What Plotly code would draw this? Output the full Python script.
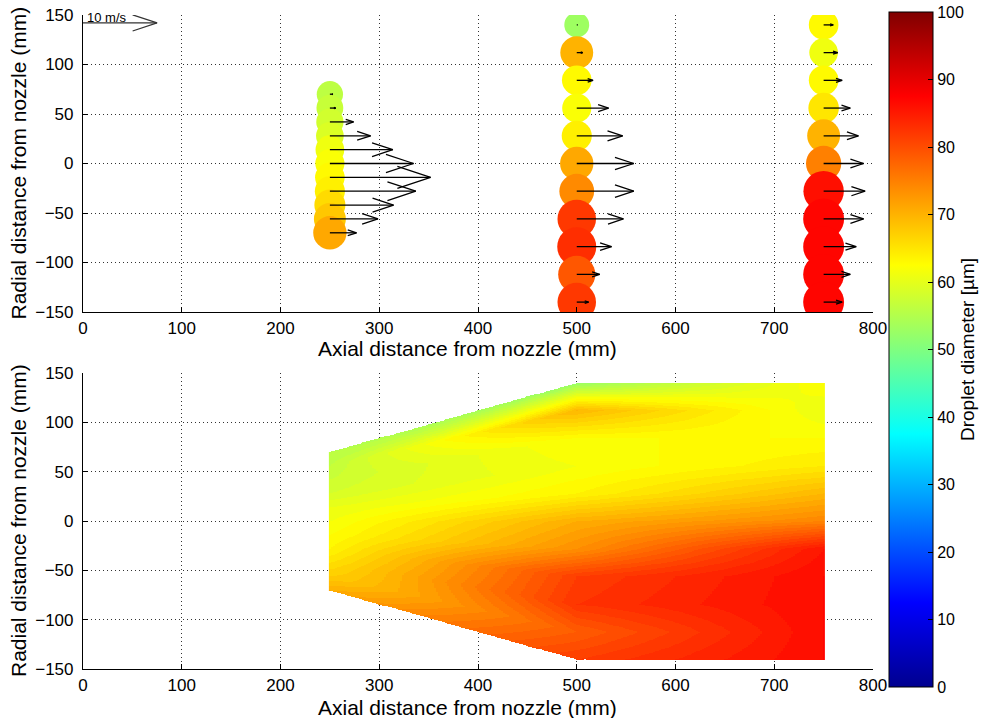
import numpy as np
import plotly.graph_objects as go

# Measurement stations along the spray axis (mm from nozzle)
STATIONS = [250, 500, 750]
# Radial probe positions (mm): narrow sweep at 250 mm, wide sweep further out
RADIAL_250 = [70, 56, 42, 28, 14, 0, -14, -28, -42, -56, -70]
RADIAL_OUTER = [140, 112, 84, 56, 28, 0, -28, -56, -84, -112, -140]

# Mean droplet diameter (um) at each probe position
DIAM_250 = [56, 57, 58, 59, 61, 62, 63, 64, 66, 68, 71]
DIAM_500 = [53, 70, 63, 62, 64, 71, 74, 82, 83, 79, 82]
DIAM_750 = [63, 61, 63, 65, 70, 75, 86, 87, 87, 87, 87]

# Mean axial droplet velocity (m/s) at each probe position
VEL_250 = [0.4, 0.8, 3.2, 5.5, 8.5, 11.3, 13.6, 11.6, 8.6, 6.5, 3.6]
VEL_500 = [0.1, 0.8, 2.2, 4.3, 6.2, 7.7, 7.7, 6.3, 4.7, 3.1, 1.6]
VEL_750 = [1.3, 1.9, 2.5, 3.6, 4.7, 5.4, 5.6, 5.4, 4.4, 3.6, 2.5]

REF_SPEED = 10  # m/s, key arrow
REF_LABEL = "10 m/s"

X_TICKS = list(range(0, 801, 100))
Y_TICKS = list(range(-150, 151, 50))
CBAR_TICKS = list(range(0, 101, 10))

X_TITLE = "Axial distance from nozzle (mm)"
Y_TITLE = "Radial distance from nozzle (mm)"
CBAR_TITLE = "Droplet diameter [µm]"

# ---------------------------------------------------------------------------
FONT = "Arial, Liberation Sans, sans-serif"
JET = [
    [0.0, "#00008F"], [0.125, "#0000FF"], [0.375, "#00FFFF"],
    [0.625, "#FFFF00"], [0.875, "#FF0000"], [1.0, "#800000"],
]
ARROW_SCALE = 7.5      # axial mm drawn per m/s
HEAD_ALPHA = 0.33      # quiver-style open arrowheads
HEAD_BETA = 0.33
MARKER_SCALE = 0.47    # marker px per um of diameter

columns = [
    (STATIONS[0], RADIAL_250, DIAM_250, VEL_250),
    (STATIONS[1], RADIAL_OUTER, DIAM_500, VEL_500),
    (STATIONS[2], RADIAL_OUTER, DIAM_750, VEL_750),
]


def quiver(xs0, ys0, speeds):
    xs, ys = [], []
    for x, y, s in zip(xs0, ys0, speeds):
        u = s * ARROW_SCALE
        tip = x + u
        back = tip - HEAD_ALPHA * u
        w = HEAD_ALPHA * HEAD_BETA * u
        xs += [x, tip, None, back, tip, back, None]
        ys += [y, y, None, y + w, y, y - w, None]
    return xs, ys


fig = go.Figure()

# --- top panel: droplet size markers with velocity arrows -------------------
for x, radial, diam, _ in columns:
    fig.add_trace(go.Scatter(
        x=[x] * len(radial), y=radial, mode="markers",
        marker=dict(size=[d * MARKER_SCALE for d in diam], color=diam,
                    coloraxis="coloraxis", line=dict(width=0), opacity=1),
        showlegend=False, hoverinfo="skip", xaxis="x", yaxis="y",
    ))

ax_all, ay_all = [], []
for x, radial, _, vel in columns:
    qx, qy = quiver([x] * len(radial), radial, vel)
    ax_all += qx
    ay_all += qy
fig.add_trace(go.Scatter(
    x=ax_all, y=ay_all, mode="lines",
    line=dict(color="black", width=1.3),
    showlegend=False, hoverinfo="skip", xaxis="x", yaxis="y",
))

# key arrow in the top-left corner
kx, ky = quiver([0], [142], [REF_SPEED])
fig.add_trace(go.Scatter(
    x=kx, y=ky, mode="lines", line=dict(color="#333", width=1.2),
    showlegend=False, hoverinfo="skip", xaxis="x", yaxis="y",
))
fig.add_annotation(
    x=2, y=147, xref="x", yref="y", text=REF_LABEL, showarrow=False,
    xanchor="left", yanchor="middle",
    font=dict(family=FONT, size=13, color="black"),
)

# --- bottom panel: diameter field, bilinear over (station, probe index) -----
# each station's probe sweep is mapped onto a shared index coordinate, so the
# field fills the trapezoid spanned by the three sweeps
st = np.array(STATIONS, float)
half = np.array([max(c[1]) for c in columns], float)
# diameters ordered from bottom (-r) to top (+r) for interpolation
prof = [np.array(c[2][::-1], float) for c in columns]
n = len(RADIAL_OUTER)
eta_nodes = np.linspace(-1.0, 1.0, n)

gx = np.arange(st[0], st[-1] + 0.01, 2.0)
gy = np.arange(-150.0, 150.01, 0.5)
field = np.full((gy.size, gx.size), np.nan)
for i, xv in enumerate(gx):
    k = min(np.searchsorted(st, xv, side="right") - 1, len(st) - 2)
    t = (xv - st[k]) / (st[k + 1] - st[k])
    h = half[k] * (1 - t) + half[k + 1] * t
    inside = np.abs(gy) <= h
    eta = gy[inside] / h
    v = (np.interp(eta, eta_nodes, prof[k]) * (1 - t)
         + np.interp(eta, eta_nodes, prof[k + 1]) * t)
    field[inside, i] = np.floor(v)

fig.add_trace(go.Heatmap(
    x=gx, y=gy, z=np.round(field, 1), coloraxis="coloraxis", zsmooth=False,
    hoverinfo="skip", xaxis="x2", yaxis="y2",
))

# --- layout -------------------------------------------------------------------
W, H = 982, 718
X0, X1 = 83, 873
TOP = (15, 312)
BOT = (373, 669)


def xaxis(dom_anchor):
    return dict(
        domain=[X0 / W, X1 / W], range=[0, 800], tickvals=X_TICKS,
        showline=True, linecolor="black", linewidth=1.2,
        ticks="inside", ticklen=5, tickcolor="black", tickwidth=1,
        showgrid=True, gridcolor="#333", gridwidth=1, griddash="1px,3px",
        zeroline=False, anchor=dom_anchor, ticklabelstandoff=0,
        automargin=False,
        tickfont=dict(family=FONT, size=17, color="black"),
    )


def yaxis(dom, x_anchor):
    return dict(
        domain=[1 - dom[1] / H, 1 - dom[0] / H], range=[-150, 150],
        tickvals=Y_TICKS,
        showline=True, linecolor="black", linewidth=1.2,
        ticks="inside", ticklen=5, tickcolor="black", tickwidth=1,
        showgrid=True, gridcolor="#333", gridwidth=1, griddash="1px,3px",
        zeroline=False, anchor=x_anchor, ticklabelstandoff=5,
        automargin=False,
        tickfont=dict(family=FONT, size=17, color="black"),
    )


title_font = dict(family=FONT, size=21, color="black")
for top, bottom, xt_y in ((TOP[0], TOP[1], 348), (BOT[0], BOT[1], 707)):
    fig.add_annotation(
        x=467 / W, y=1 - xt_y / H, xref="paper", yref="paper",
        text=X_TITLE, showarrow=False, xanchor="center", yanchor="middle",
        font=title_font,
    )
    fig.add_annotation(
        x=18 / W, y=1 - (top + bottom) / 2 / H, xref="paper", yref="paper",
        text=Y_TITLE, showarrow=False, textangle=-90,
        xanchor="center", yanchor="middle", font=title_font,
    )

fig.update_layout(
    width=W, height=H,
    margin=dict(l=0, r=0, t=0, b=0, autoexpand=False),
    paper_bgcolor="white", plot_bgcolor="white",
    showlegend=False,
    xaxis=xaxis("y"), yaxis=yaxis(TOP, "x"),
    xaxis2=xaxis("y2"), yaxis2=yaxis(BOT, "x2"),
    coloraxis=dict(
        colorscale=JET, cmin=0, cmax=100,
        colorbar=dict(
            x=889 / W, xanchor="left", y=1 - 349.5 / H, yanchor="middle",
            len=675 / H, lenmode="fraction", thickness=44, thicknessmode="pixels",
            xpad=0, ypad=0, outlinecolor="black", outlinewidth=1,
            tickvals=CBAR_TICKS, ticks="inside", ticklen=5, tickcolor="black",
            tickfont=dict(family=FONT, size=16, color="black"),
            title=dict(text=CBAR_TITLE, side="right",
                       font=dict(family=FONT, size=19, color="black")),
        ),
    ),
)

fig.write_html("out.html")
